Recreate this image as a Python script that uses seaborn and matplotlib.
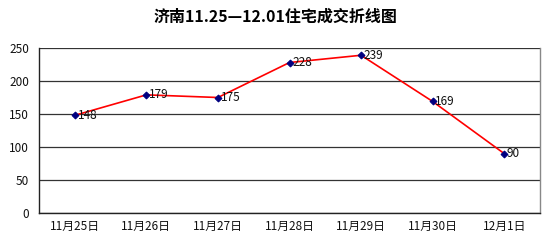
import matplotlib
matplotlib.use("Agg")
import matplotlib.pyplot as plt
import seaborn as sns
import pandas as pd
import numpy as np

categories = ["11月25日", "11月26日", "11月27日", "11月28日", "11月29日", "11月30日", "12月1日"]
values = [148, 179, 175, 228, 239, 169, 90]
title = "济南11.25—12.01住宅成交折线图"

sns.set_theme(style="white")
plt.rcParams['font.family'] = ['Noto Sans CJK SC', 'DejaVu Sans']

df = pd.DataFrame({"idx": np.arange(len(categories)), "val": values})

fig = plt.figure(figsize=(5.5, 2.47), dpi=100)
ax = fig.add_axes([39/550, 1-213/247, (540-39)/550, (213-48)/247])

sns.lineplot(data=df, x="idx", y="val", ax=ax, color="#ff0000", linewidth=1.2,
             marker="D", markersize=3.5, markerfacecolor="#000080", markeredgecolor="#000080")

for i, v in zip(df["idx"], df["val"]):
    ax.annotate(str(v), (i, v), xytext=(2, 0), textcoords="offset points",
                ha="left", va="center", fontsize=8.5, color="#111111")

ax.set_xlim(-0.5, len(categories) - 0.5)
ax.set_ylim(0, 250)
ax.set_yticks(range(0, 251, 50))
ax.yaxis.grid(True, color="#333333", linewidth=0.9)
ax.set_axisbelow(True)
ax.set_xticks(df["idx"])
ax.set_xticklabels(categories, fontsize=8.5, color="#111111")
ax.tick_params(axis="x", length=0, pad=5)
ax.tick_params(axis="y", length=0, labelsize=8.5, pad=7, labelcolor="#111111")
ax.set_xticks(np.arange(0.5, len(categories) - 0.5, 1), minor=True)
ax.tick_params(axis="x", which="minor", direction="in", length=4, color="#333333", width=0.8)
ax.set_xlabel("")
ax.set_ylabel("")

for side in ["left", "bottom"]:
    ax.spines[side].set_color("#222222")
    ax.spines[side].set_linewidth(1.0)
for side in ["right", "top"]:
    ax.spines[side].set_color("#888888")
    ax.spines[side].set_linewidth(1.0)
ax.spines["top"].set_visible(False)

fig.text(0.5, 1 - 17/247, title, ha="center", va="center", fontsize=11.5,
         fontweight="bold", color="black")

fig.savefig("out.png", dpi=100)
